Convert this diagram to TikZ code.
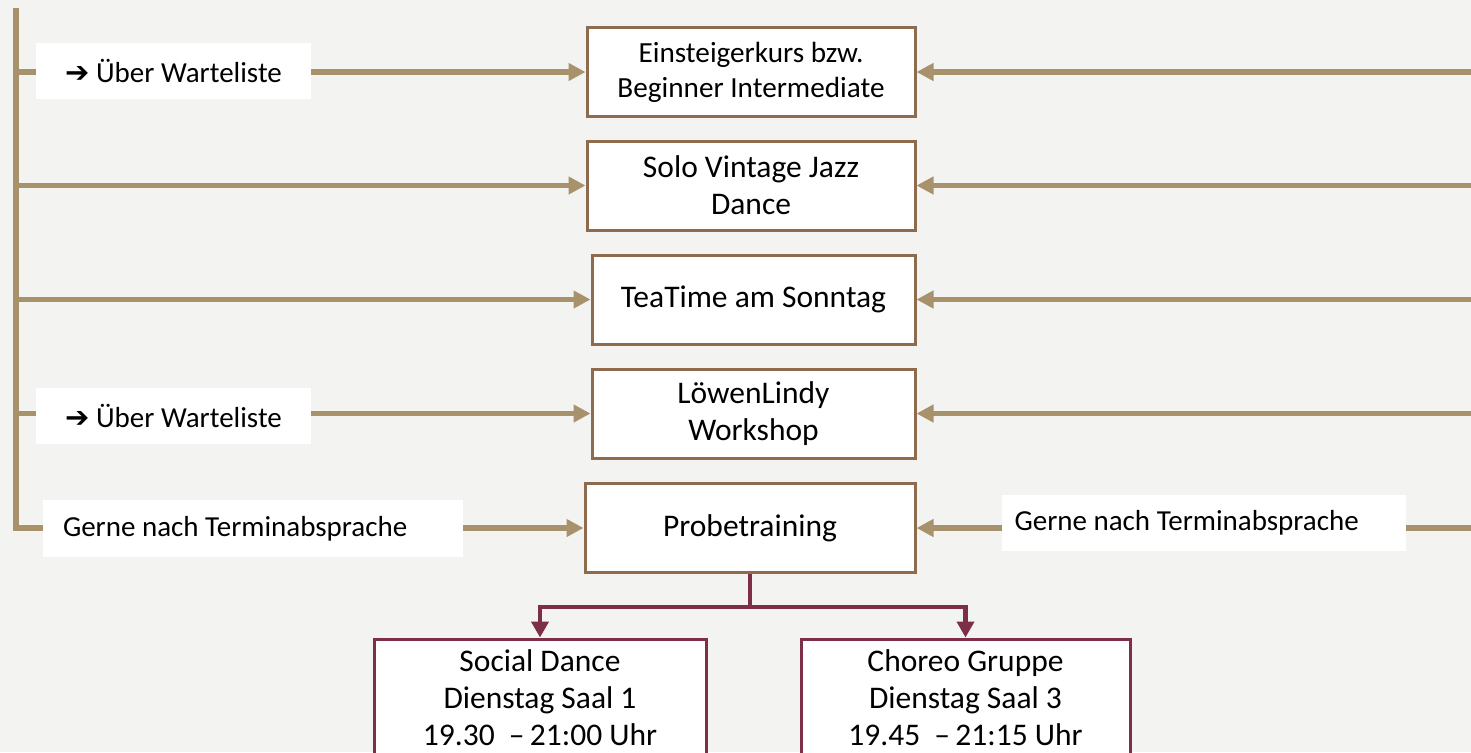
\documentclass[tikz,border=0pt]{standalone}
\usepackage{fontspec}
\setmainfont{Carlito}
\newfontfamily\symfont{DejaVu Sans}
\usepackage{xcolor}
\usetikzlibrary{arrows.meta}
\definecolor{paper}{HTML}{F3F3F2}
\definecolor{tan}{HTML}{A8926B}
\definecolor{frame}{HTML}{8E6B4D}
\definecolor{wine}{HTML}{7E2F48}

\begin{document}
\begin{tikzpicture}[x=0.5pt, y=-0.5pt,
  course/.style={draw=frame, line width=1.5pt, fill=white, align=center,
    minimum width=164pt, minimum height=44.5pt, inner sep=2pt,
    font=\fontsize{15.75}{18.5}\selectfont},
  group/.style={draw=wine, line width=1.5pt, fill=white, align=center,
    minimum width=166pt, minimum height=59pt, inner sep=2pt,
    font=\fontsize{15.75}{18.5}\selectfont},
  note/.style={fill=white, inner sep=0pt, minimum height=28pt,
    font=\fontsize{14.5}{17}\selectfont},
  feed/.style={tan, line width=2.6pt, -{Triangle[length=8.5pt, width=8.5pt]}},
  split/.style={wine, line width=2.3pt, -{Triangle[length=8pt, width=8.5pt]}}]
\useasboundingbox (0,0) rectangle (1471,752);
\fill [paper] (0,0) rectangle (1471,752);

% course boxes
\node [course, font=\fontsize{14.6}{17.5}\selectfont] (einst) at (751,72) {Einsteigerkurs bzw.\\Beginner Intermediate};
\node [course] (solo) at (751,185.5) {Solo Vintage Jazz\\Dance};
\node [course, minimum width=161.5pt] (tea) at (753.5,299.5) {TeaTime am Sonntag};
\node [course, minimum width=161.5pt] (lindy) at (753.5,413.5) {LöwenLindy\\Workshop};
\node [course, minimum width=165pt] (probe) at (750,528) {Probetraining};
\node [group] (social) at (540,698) {Social Dance\\Dienstag Saal 1\\19.30 \ --\,21:00 Uhr};
\node [group, minimum width=164.5pt] (choreo) at (965.5,698) {Choreo Gruppe\\Dienstag Saal 3\\19.45 \ --\,21:15 Uhr};

% left trunk
\coordinate (top) at (16,8);
\coordinate (t1) at (16,72);
\coordinate (t2) at (16,185.5);
\coordinate (t3) at (16,299.5);
\coordinate (t4) at (16,413.5);
\draw [feed] (top) |- (probe.west);
\draw [feed] (t1) -- (einst.west);
\draw [feed] (t2) -- (solo.west);
\draw [feed] (t3) -- (tea.west);
\draw [feed] (t4) -- (lindy.west);

% right side
\foreach \crs in {einst,solo,tea,lindy,probe}
  \draw [feed] (1475,0 |- \crs.east) -- (\crs.east);

% split to the groups
\coordinate (fork) at (750,607);
\draw [split] (probe.south) -- (fork) -| (social.north);
\draw [split] (fork) -| (choreo.north);

% labels on the lines
\node [note, minimum width=137.5pt] (wl1) at (173.5,71) {{\symfont ➔} Über Warteliste};
\node [note, minimum width=137.5pt] (wl4) at (173.5,416) {{\symfont ➔} Über Warteliste};
\node [note, text width=190pt, inner xsep=10pt, minimum height=28.5pt, align=flush left] (gl) at (253,528.5) {Gerne nach Terminabsprache};
\node [note, text width=189pt, inner xsep=6.5pt, align=flush left] (gr) at (1203.5,523) {Gerne nach Terminabsprache};
\end{tikzpicture}
\end{document}
